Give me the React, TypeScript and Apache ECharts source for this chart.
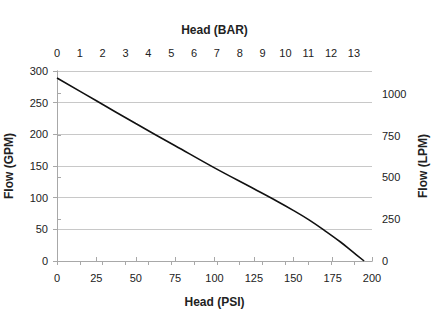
import React, { useEffect, useRef } from "react";
import * as echarts from "echarts";

// Pump curve: flow (GPM) against head (PSI)
const headPsi = [0, 25, 50, 75, 100, 125, 140, 150, 160, 170, 180, 188, 195];
const flowGpm = [289, 253, 217, 182, 147, 114, 94, 80, 65, 48, 30, 14, 0];

// Unit conversions for the secondary axes
const PSI_PER_BAR = 14.5038;
const LPM_PER_GPM = 3.78541;

const PSI_MAX = 200;
const GPM_MAX = 300;

const FONT = "'Liberation Sans', Arial, sans-serif";
const TEXT = "#222";
const AXIS = "#a8a8a8";
const GRID = "#c8c8c8";

export default function App() {
  const ref = useRef<HTMLDivElement>(null);

  useEffect(() => {
    if (!ref.current) return;
    const chart = echarts.init(ref.current, null, { renderer: "svg" });

    const points = headPsi.map((h, i) => [h, flowGpm[i]]);

    const labelStyle = { color: TEXT, fontSize: 11, fontFamily: FONT };
    const nameStyle = { color: TEXT, fontSize: 12, fontWeight: "bold" as const, fontFamily: FONT };
    const plain = (v: number) => String(Math.round(v));

    chart.setOption({
      animation: false,
      backgroundColor: "#fff",
      grid: {
        left: 57,
        right: 62,
        top: 71,
        bottom: 74,
        containLabel: false,
        outerBoundsMode: "none",
      },
      xAxis: [
        {
          type: "value",
          position: "bottom",
          min: 0,
          max: PSI_MAX,
          interval: 25,
          name: "Head (PSI)",
          nameLocation: "middle",
          nameGap: 35,
          nameTextStyle: nameStyle,
          axisLine: { show: true, lineStyle: { color: AXIS, width: 1 } },
          axisTick: { show: true, inside: true, length: 4, lineStyle: { color: AXIS } },
          axisLabel: { ...labelStyle, margin: 11, formatter: plain },
          splitLine: { show: false },
        },
        {
          type: "value",
          position: "top",
          min: 0,
          max: PSI_MAX / PSI_PER_BAR,
          interval: 1,
          name: "Head (BAR)",
          nameLocation: "middle",
          nameGap: 35,
          nameTextStyle: nameStyle,
          axisLine: { show: true, lineStyle: { color: AXIS, width: 1 } },
          axisTick: { show: true, inside: true, length: 4, lineStyle: { color: AXIS } },
          axisLabel: { ...labelStyle, margin: 13, showMaxLabel: false, formatter: plain },
          splitLine: { show: false },
        },
      ],
      yAxis: [
        {
          type: "value",
          position: "left",
          min: 0,
          max: GPM_MAX,
          interval: 50,
          name: "Flow (GPM)",
          nameLocation: "middle",
          nameGap: 42,
          nameRotate: 90,
          nameTextStyle: nameStyle,
          axisLine: { show: true, lineStyle: { color: AXIS, width: 1 } },
          axisTick: { show: true, length: 4, lineStyle: { color: AXIS } },
          axisLabel: { ...labelStyle, margin: 9, formatter: plain },
          splitLine: { show: true, lineStyle: { color: GRID, width: 1 } },
        },
        {
          type: "value",
          position: "right",
          min: 0,
          max: GPM_MAX * LPM_PER_GPM,
          interval: 250,
          name: "Flow (LPM)",
          nameLocation: "middle",
          nameGap: 31,
          nameRotate: 90,
          nameTextStyle: nameStyle,
          axisLine: { show: true, lineStyle: { color: AXIS, width: 1 } },
          axisTick: { show: true, length: 4, lineStyle: { color: AXIS } },
          axisLabel: { ...labelStyle, margin: 10, showMaxLabel: false, formatter: plain },
          splitLine: { show: false },
        },
      ],
      series: [
        {
          type: "line",
          xAxisIndex: 0,
          yAxisIndex: 0,
          data: points,
          smooth: 0.4,
          showSymbol: false,
          lineStyle: { color: "#111", width: 1.6 },
        },
      ],
    });

    return () => chart.dispose();
  }, []);

  return (
    <div
      ref={ref}
      style={{ position: "fixed", left: 0, top: 0, width: 434, height: 335 }}
    />
  );
}
